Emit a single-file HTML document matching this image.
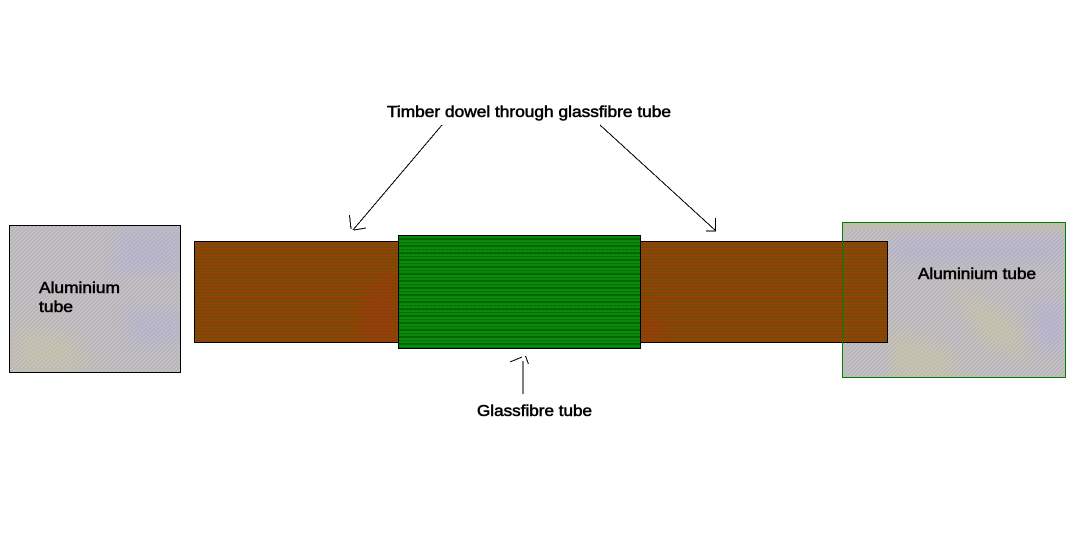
<!DOCTYPE html>
<html><head><meta charset="utf-8"><style>
html,body{margin:0;padding:0;background:#fff}
svg{display:block}
text{font-family:"Liberation Sans",Arial,sans-serif;font-size:16px;fill:#000;stroke:#000;stroke-width:.55px}
</style></head><body>
<svg width="1086" height="544" viewBox="0 0 1086 544" xmlns="http://www.w3.org/2000/svg" shape-rendering="crispEdges">
<defs>
<pattern id="al" width="4" height="4" patternUnits="userSpaceOnUse">
<rect width="4" height="4" fill="#bdb9bd"/>
<rect x="0" y="0" width="1" height="1" fill="#ccc8a0"/><rect x="2" y="0" width="1" height="1" fill="#aeaede"/>
<rect x="1" y="1" width="1" height="1" fill="#b2b2d8"/><rect x="3" y="1" width="1" height="1" fill="#cec8a4"/>
<rect x="0" y="2" width="1" height="1" fill="#aeaede"/><rect x="2" y="2" width="1" height="1" fill="#ccc8a0"/>
<rect x="1" y="3" width="1" height="1" fill="#cec8a4"/><rect x="3" y="3" width="1" height="1" fill="#b2b2d8"/>
</pattern>
<pattern id="br" width="4" height="6" patternUnits="userSpaceOnUse">
<rect width="4" height="6" fill="#8a4604"/>
<rect y="1" width="4" height="1" fill="#6e4c08"/>
<rect x="0" y="2" width="2" height="1" fill="#a03c0e"/>
<rect y="4" width="4" height="1" fill="#744a06"/>
<rect x="2" y="5" width="2" height="1" fill="#a03c0a"/>
</pattern>
<pattern id="gr" width="4" height="7" patternUnits="userSpaceOnUse">
<rect width="4" height="7" fill="#0a880a"/>
<rect y="0" width="4" height="2" fill="#006800"/>
<rect y="4" width="4" height="1" fill="#007400"/>
<rect x="0" y="3" width="2" height="1" fill="#168e16"/>
</pattern>
<filter id="soft" x="-20%" y="-20%" width="140%" height="140%"><feGaussianBlur stdDeviation="8"/></filter>
<clipPath id="cl"><rect x="10" y="226" width="170" height="146"/></clipPath>
<clipPath id="cr"><rect x="888" y="223" width="177" height="154"/></clipPath>
<clipPath id="cb1"><rect x="195" y="242" width="203" height="100"/></clipPath>
<clipPath id="cb2"><rect x="641" y="242" width="201" height="100"/></clipPath>
</defs>
<rect width="1086" height="544" fill="#fff"/>
<rect x="9.5" y="225.5" width="171" height="147" fill="url(#al)" stroke="#000"/>
<g clip-path="url(#cl)" shape-rendering="auto">
<g filter="url(#soft)" opacity=".28">
<path d="M120 226H180V275H110Z" fill="#a8a8e8"/>
<path d="M15 325L70 335L95 372H15Z" fill="#d2cd90"/>
<path d="M120 310H180V345H130Z" fill="#a8a8e8"/>
</g></g>
<rect x="842.5" y="222.500" width="223" height="155" fill="url(#al)" stroke="#008000"/>
<g clip-path="url(#cr)" shape-rendering="auto">
<g filter="url(#soft)" opacity=".32">
<path d="M890 240H1065V262H890Z" fill="#a8a8e8"/>
<path d="M950 285L1010 315L1030 360L985 345Z" fill="#d2cd90"/>
<path d="M890 330L950 350L960 377H890Z" fill="#d2cd90"/>
<path d="M1030 300H1065V350H1040Z" fill="#a8a8e8"/>
</g></g>
<rect x="843" y="223" width="222" height="7" fill="#bdbdb0"/>
<rect x="194.500" y="241.500" width="693" height="101" fill="url(#br)" stroke="#000"/>
<g shape-rendering="auto">
<g clip-path="url(#cb1)"><path filter="url(#soft)" opacity=".35" d="M365 290L398 270V342H355Z" fill="#a83208"/></g>
<g clip-path="url(#cb2)"><path filter="url(#soft)" opacity=".35" d="M645 300L670 342H641Z" fill="#a83208"/></g>
</g>
<line x1="842.500" y1="241" x2="842.500" y2="343" stroke="#008000"/>
<rect x="398.500" y="235.500" width="242" height="113" fill="url(#gr)" stroke="#000"/>
<g fill="none" stroke="#000" stroke-width="1">
<path d="M442 125L353 230M349.500 215L351 229M354 230L366 228"/>
<path d="M600 125L716 231M715.500 218V231M706 231H716"/>
<path d="M523 361V394M510 362L522 357M525.500 356L528.500 364"/>
</g>
<g shape-rendering="auto">
<text x="387" y="117" textLength="284" lengthAdjust="spacingAndGlyphs">Timber dowel through glassfibre tube</text>
<text x="477" y="416" textLength="115" lengthAdjust="spacingAndGlyphs">Glassfibre tube</text>
<text x="39" y="293" textLength="81" lengthAdjust="spacingAndGlyphs">Aluminium</text>
<text x="39" y="312" textLength="34" lengthAdjust="spacingAndGlyphs">tube</text>
<text x="918" y="279" textLength="118" lengthAdjust="spacingAndGlyphs">Aluminium tube</text>
</g>
</svg>
</body></html>
